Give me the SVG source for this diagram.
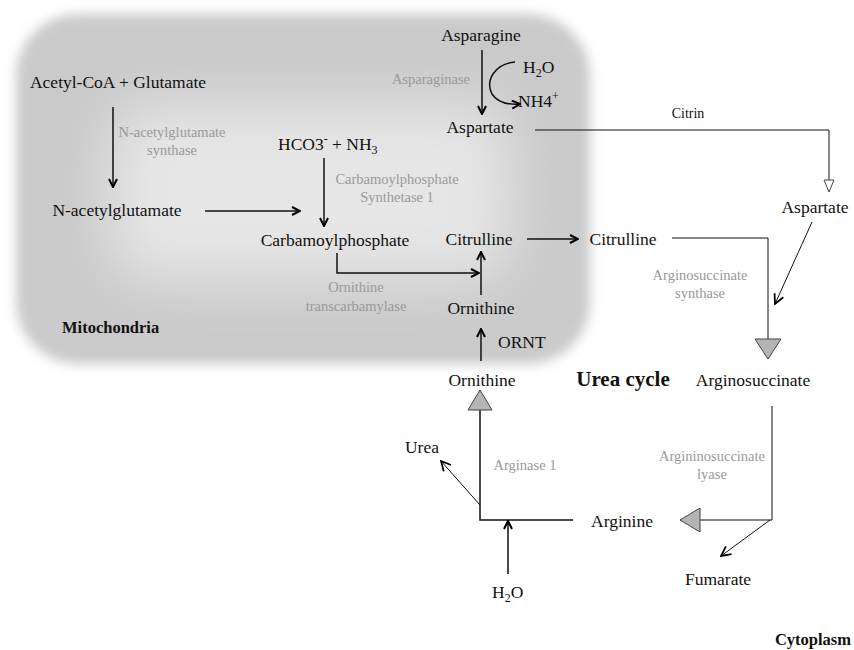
<svg xmlns="http://www.w3.org/2000/svg" width="854" height="650" viewBox="0 0 854 650">
<defs>
<filter id="blur1" x="-20%" y="-20%" width="140%" height="140%"><feGaussianBlur stdDeviation="6"/></filter>
<filter id="blur2" x="-30%" y="-30%" width="160%" height="160%"><feGaussianBlur stdDeviation="28"/></filter>
<marker id="v" viewBox="0 0 10 10" refX="9" refY="5" markerWidth="10" markerHeight="10" markerUnits="userSpaceOnUse" orient="auto">
<path d="M1,1 L9,5 L1,9" fill="none" stroke="#000" stroke-width="2"/>
</marker>
<marker id="vs" viewBox="0 0 10 10" refX="9" refY="5" markerWidth="12" markerHeight="12" markerUnits="userSpaceOnUse" orient="auto">
<path d="M1,1 L9,5 L1,9" fill="none" stroke="#000" stroke-width="1.5"/>
</marker>
<marker id="tw" viewBox="0 0 14 12" refX="13" refY="6" markerWidth="14" markerHeight="12" markerUnits="userSpaceOnUse" orient="auto">
<path d="M1,1 L13,6 L1,11 Z" fill="#fff" stroke="#444" stroke-width="1"/>
</marker>
<marker id="tg" viewBox="0 0 22 28" refX="21" refY="14" markerWidth="22" markerHeight="28" markerUnits="userSpaceOnUse" orient="auto">
<path d="M1,1 L21,14 L1,27 Z" fill="#b4b4b4" stroke="#444" stroke-width="1"/>
</marker>
<marker id="tg2" viewBox="0 0 22 26" refX="21" refY="13" markerWidth="22" markerHeight="26" markerUnits="userSpaceOnUse" orient="auto">
<path d="M1,1 L21,13 L1,25 Z" fill="#b4b4b4" stroke="#444" stroke-width="1"/>
</marker>
</defs>
<style>
text{font-family:"Liberation Serif","Times New Roman",serif;font-size:17.5px;fill:#111}
.e{font-size:14.5px;fill:#999}
.b{font-weight:bold;font-size:16.5px}
.u{font-weight:bold;font-size:21px}
.s{font-size:14px}
.c line,.c path,.c polyline{stroke:#111;stroke-width:1.5;fill:none}
.c .t{stroke-width:1}
</style>
<rect width="854" height="650" fill="#fff"/>
<g id="mitochondria">
<rect x="16" y="14" width="574" height="350" rx="62" fill="#cacaca" filter="url(#blur1)"/>
<rect x="110" y="105" width="400" height="175" rx="40" fill="#e6e6e6" filter="url(#blur2)"/>
<text x="62" y="333" class="b">Mitochondria</text>
</g>
<g id="labels">
<text x="481" y="41" text-anchor="middle">Asparagine</text>
<text x="470" y="84" text-anchor="end" class="e">Asparaginase</text>
<text x="523" y="73">H<tspan font-size="12" dy="4">2</tspan><tspan dy="-4">O</tspan></text>
<text x="518" y="107">NH4<tspan font-size="12" dy="-7">+</tspan></text>
<text x="480" y="133" text-anchor="middle">Aspartate</text>
<text x="688" y="118" text-anchor="middle" class="s">Citrin</text>
<text x="815" y="213" text-anchor="middle">Aspartate</text>
<text x="118" y="88" text-anchor="middle">Acetyl-CoA + Glutamate</text>
<text x="172" y="137" text-anchor="middle" class="e">N-acetylglutamate</text>
<text x="172" y="155" text-anchor="middle" class="e">synthase</text>
<text x="117" y="216" text-anchor="middle">N-acetylglutamate</text>
<text x="278" y="150">HCO3<tspan font-size="12" dy="-7">-</tspan><tspan dy="7"> + NH</tspan><tspan font-size="12" dy="4">3</tspan></text>
<text x="397" y="184" text-anchor="middle" class="e">Carbamoylphosphate</text>
<text x="397" y="202" text-anchor="middle" class="e">Synthetase 1</text>
<text x="335" y="246" text-anchor="middle">Carbamoylphosphate</text>
<text x="479" y="245" text-anchor="middle">Citrulline</text>
<text x="356" y="292" text-anchor="middle" class="e">Ornithine</text>
<text x="356" y="311" text-anchor="middle" class="e">transcarbamylase</text>
<text x="481" y="314" text-anchor="middle">Ornithine</text>
<text x="498" y="348">ORNT</text>
<text x="623" y="245" text-anchor="middle">Citrulline</text>
<text x="700" y="280" text-anchor="middle" class="e">Arginosuccinate</text>
<text x="700" y="298" text-anchor="middle" class="e">synthase</text>
<text x="482" y="386" text-anchor="middle">Ornithine</text>
<text x="623" y="386" text-anchor="middle" class="u">Urea cycle</text>
<text x="753" y="386" text-anchor="middle">Arginosuccinate</text>
<text x="712" y="461" text-anchor="middle" class="e">Argininosuccinate</text>
<text x="712" y="479" text-anchor="middle" class="e">lyase</text>
<text x="422" y="453" text-anchor="middle">Urea</text>
<text x="525" y="470" text-anchor="middle" class="e">Arginase 1</text>
<text x="622" y="527" text-anchor="middle">Arginine</text>
<text x="718" y="585" text-anchor="middle">Fumarate</text>
<text x="492" y="598">H<tspan font-size="12" dy="4">2</tspan><tspan dy="-4">O</tspan></text>
<text x="813" y="645" text-anchor="middle" class="b">Cytoplasm</text>
</g>
<g id="connectors" class="c">
<line x1="482" y1="50" x2="482" y2="114" marker-end="url(#v)"/>
<path d="M515,62 C495,64 485,80 492,94 C497,102 506,105 520,104" marker-end="url(#v)"/>
<polyline class="t" points="535,130 829,130 829,192" marker-end="url(#tw)"/>
<line class="t" x1="812" y1="222" x2="775" y2="304" marker-end="url(#vs)"/>
<line x1="113" y1="107" x2="113" y2="187" marker-end="url(#v)"/>
<line x1="205" y1="211" x2="300" y2="211" marker-end="url(#v)"/>
<line x1="324" y1="158" x2="324" y2="226" marker-end="url(#v)"/>
<polyline points="337,253 337,273 479,273" marker-end="url(#v)"/>
<line x1="481" y1="295" x2="481" y2="252" marker-end="url(#v)"/>
<line x1="481" y1="361" x2="481" y2="329" marker-end="url(#v)"/>
<line x1="527" y1="239" x2="578" y2="239" marker-end="url(#v)"/>
<polyline class="t" points="672,238 768,238 768,359" marker-end="url(#tg)"/>
<polyline class="t" points="772,406 772,520 680,520" marker-end="url(#tg2)"/>
<line class="t" x1="770" y1="520" x2="721" y2="556" marker-end="url(#vs)"/>
<polyline points="573,520 480,520 480,390" marker-end="url(#tg2)"/>
<line class="t" x1="480" y1="505" x2="441" y2="461" marker-end="url(#vs)"/>
<line x1="508" y1="574" x2="508" y2="521" marker-end="url(#v)"/>
</g>
</svg>
